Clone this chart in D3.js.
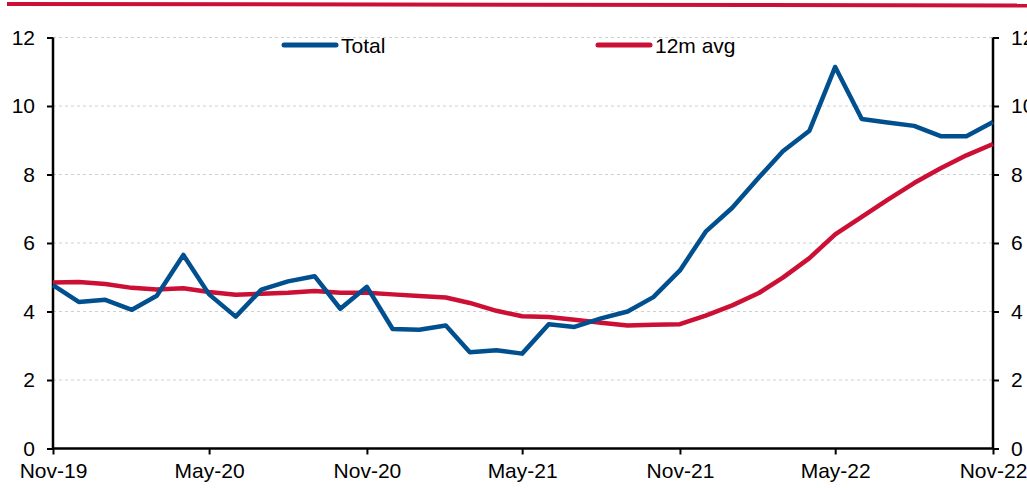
<!DOCTYPE html>
<html lang="en">
<head>
	<meta charset="UTF-8"/>
	<title>Total vs 12m avg</title>
	<script src="https://d3js.org/d3.v7.min.js"></script>
	<style>
		body { margin: 0; background: #fff; }
		text { font-family: "Liberation Sans", Arial, sans-serif; fill: #000; }
	</style>
</head>
<body>
	<script>
	// ***Data***
		var months = d3.timeMonth.range(new Date(2019, 10, 1), new Date(2022, 11, 1)); // Nov-19 .. Nov-22
		var total = [4.77, 4.28, 4.34, 4.05, 4.46, 5.65, 4.5, 3.85, 4.64, 4.88,
					5.03, 4.08, 4.72, 3.49, 3.47, 3.59, 2.81, 2.87, 2.77, 3.63,
					3.55, 3.8, 4.0, 4.42, 5.2, 6.33, 7.03, 7.91, 8.68, 9.28,
					11.14, 9.62, 9.52, 9.42, 9.12, 9.12, 9.53];
		var avg12 = [4.85, 4.86, 4.8, 4.69, 4.64, 4.68, 4.57, 4.49, 4.52, 4.55,
					4.6, 4.55, 4.55, 4.5, 4.45, 4.41, 4.25, 4.02, 3.86, 3.84,
					3.76, 3.67, 3.59, 3.61, 3.63, 3.88, 4.18, 4.54, 4.99, 5.56,
					6.25, 6.76, 7.26, 7.75, 8.18, 8.56, 8.89];
		var xTickLabels = ["Nov-19", "May-20", "Nov-20", "May-21", "Nov-21", "May-22", "Nov-22"];
		var yTicks = [0, 2, 4, 6, 8, 10, 12];
		var seriesNames = ["Total", "12m avg"];

	// ***Variable declarations***
		var w = 1027;
		var h = 488;
		var plotLeft = 53, plotRight = 993, plotTop = 37.5, plotBottom = 448.5;
		var blue = "#004f8f";
		var red = "#cc0f35";
		var fontSize = "21px";

		var xScale = d3.scaleTime()
					.domain([months[0], months[months.length - 1]])
					.range([plotLeft, plotRight]);
		var yScale = d3.scaleLinear()
					.domain([0, 12])
					.range([plotBottom, plotTop]);

		var svg = d3.select("body")
					.append("svg")
					.attr("width", w)
					.attr("height", h);

		// top banner rule
		svg.append("line")
			.attr("x1", 7).attr("y1", 4)
			.attr("x2", w).attr("y2", 5.5)
			.attr("stroke", red)
			.attr("stroke-width", 4);

		// gridlines
		svg.selectAll(".grid")
			.data(yTicks.slice(1))
			.enter()
			.append("line")
			.attr("x1", plotLeft).attr("x2", plotRight)
			.attr("y1", function(d) { return yScale(d); })
			.attr("y2", function(d) { return yScale(d); })
			.attr("stroke", "#d0d0d0")
			.attr("stroke-width", 1)
			.attr("stroke-dasharray", "3,3");

		// axes
		var xAxis = d3.axisBottom(xScale)
					.tickValues(months.filter(function(d, i) { return i % 6 == 0; }))
					.tickFormat(function(d, i) { return xTickLabels[i]; })
					.tickSize(6)
					.tickPadding(9);
		var gx = svg.append("g")
			.attr("transform", "translate(0," + plotBottom + ")")
			.call(xAxis);

		var gl = svg.append("g")
			.attr("transform", "translate(" + plotLeft + ",0)")
			.call(d3.axisLeft(yScale).tickValues(yTicks).tickSize(6).tickPadding(12));
		var gr = svg.append("g")
			.attr("transform", "translate(" + plotRight + ",0)")
			.call(d3.axisRight(yScale).tickValues(yTicks).tickSize(6).tickPadding(12));

		[gx, gl, gr].forEach(function(g) {
			g.select(".domain").attr("stroke", "#000").attr("stroke-width", 2.5);
			g.selectAll(".tick line").attr("stroke", "#000").attr("stroke-width", 2);
			g.selectAll("text")
				.style("font-family", "'Liberation Sans', Arial, sans-serif")
				.style("font-size", fontSize)
				.attr("fill", "#000");
		});
		gx.select(".domain").attr("d", "M" + plotLeft + ",0H" + plotRight);
		gl.select(".domain").attr("d", "M0," + plotTop + "V" + plotBottom);
		gr.select(".domain").attr("d", "M0," + plotTop + "V" + plotBottom);

		// lines
		var line = d3.line()
					.x(function(d, i) { return xScale(months[i]); })
					.y(function(d) { return yScale(d); });

		svg.append("path")
			.datum(avg12)
			.attr("d", line)
			.attr("fill", "none")
			.attr("stroke", red)
			.attr("stroke-width", 4.5)
			.attr("stroke-linejoin", "round");

		svg.append("path")
			.datum(total)
			.attr("d", line)
			.attr("fill", "none")
			.attr("stroke", blue)
			.attr("stroke-width", 4.5)
			.attr("stroke-linejoin", "round");

		// legend
		var legend = svg.selectAll(".legend")
					.data(seriesNames)
					.enter()
					.append("g")
					.attr("transform", function(d, i) { return "translate(" + (i == 0 ? 284 : 598) + ",45)"; });
		legend.append("line")
			.attr("x1", 0).attr("x2", 52)
			.attr("y1", 0).attr("y2", 0)
			.attr("stroke", function(d, i) { return i == 0 ? blue : red; })
			.attr("stroke-width", 5)
			.attr("stroke-linecap", "round");
		legend.append("text")
			.attr("x", 57)
			.attr("y", 7.5)
			.style("font-size", fontSize)
			.text(function(d) { return d; });
	</script>
</body>
</html>
